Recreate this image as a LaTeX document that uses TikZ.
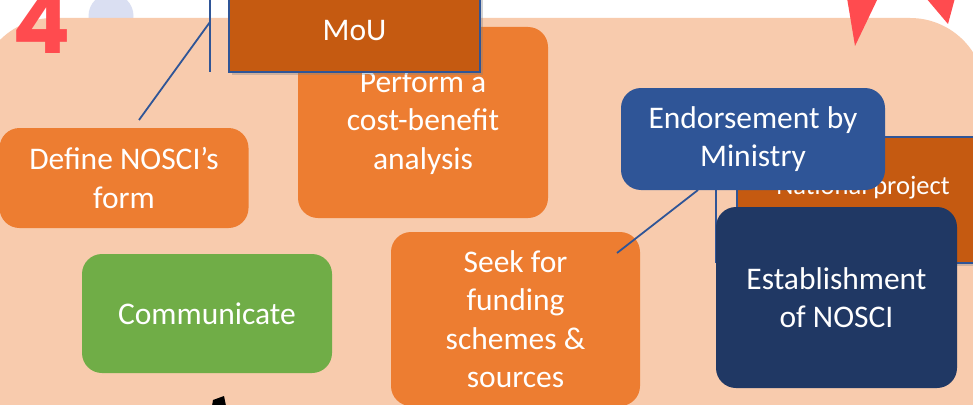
\documentclass[tikz,border=0pt]{standalone}
\usepackage{fontspec}
\setmainfont{Carlito}
\newfontfamily\poppins{Poppins}[BoldFont={Poppins Bold}]
\usetikzlibrary{shadows}
\definecolor{peach}{HTML}{F8CBAD}
\definecolor{orangebox}{HTML}{ED7D31}
\definecolor{darkorange}{HTML}{C55A11}
\definecolor{bluebox}{HTML}{2F5597}
\definecolor{navybox}{HTML}{203864}
\definecolor{greenbox}{HTML}{70AD47}
\definecolor{redmark}{HTML}{FF4B4F}
\definecolor{paleblue}{HTML}{DADFF2}
\tikzset{
  card/.style={rounded corners=20pt, inner sep=0pt, align=center, text=white,
    font=\fontsize{31.5}{38.5}\selectfont},
  plainrect/.style={draw=bluebox, line width=1.6pt, inner sep=0pt, align=center, text=white,
    font=\fontsize{31.5}{38.5}\selectfont,
    drop shadow={opacity=0.35, shadow xshift=3pt, shadow yshift=-3pt}},
  callout/.style={draw=bluebox, line width=1.8pt},
}
\begin{document}
\begin{tikzpicture}[x=1pt,y=-1pt]
\useasboundingbox (0,0) rectangle (973,404);
\clip (0,0) rectangle (973,404);
\fill[white] (0,0) rectangle (973,404);
% pale circle behind
\fill[paleblue] (111,16) circle (22.5);
% peach panel
\fill[peach, rounded corners=75pt] (-22,18) rectangle (985,480);
% red number and marks
\node[text=redmark, inner sep=0pt, anchor=base, font=\poppins\bfseries\fontsize{86}{86}\selectfont] (num) at (42,53) {4};
\fill[redmark] (847,-2) -- (878,-2) -- (855,46) -- cycle;
\fill[redmark] (926,-2) -- (955,-2) -- (948,24) -- cycle;
% callout of define box
\coordinate (cTop) at (210,0);
\coordinate (cBot) at (210,72);
\coordinate (cJoint) at (210,22);
\coordinate (defTip) at (139,120);
\draw[callout] (cTop) -- (cBot);
\draw[callout] (defTip) -- (cJoint);
% boxes
\node[card, fill=orangebox, minimum width=249pt, minimum height=100pt] (define) at (124,178) {Define NOSCI’s\\form};
\node[card, fill=greenbox, minimum width=250pt, minimum height=119pt] (comm) at (207,313.5) {Communicate};
\node[card, fill=orangebox, minimum width=250pt, minimum height=191pt] (perform) at (423,122.5) {Perform a\\cost-benefit\\analysis};
\node[plainrect, fill=darkorange, minimum width=251pt, minimum height=82pt] (mou) at (354.5,31) {MoU};
\node[card, fill=orangebox, minimum width=249pt, minimum height=174pt] (seek) at (515.5,319) {Seek for\\funding\\schemes \&\\sources};
% callout of endorsement
\coordinate (seekTip) at (617,253);
\coordinate (endJoint) at (698,190);
\coordinate (barTop) at (716,190);
\coordinate (barBot) at (716,263);
\draw[callout] (seekTip) -- (endJoint);
\draw[callout] (barTop) -- (barBot);
\node[plainrect, fill=darkorange, minimum width=253pt, minimum height=126pt] (national) at (863.5,200) {};
\node[text=white, inner sep=0pt, font=\fontsize{26.5}{32}\selectfont] (natlabel) at (863,188) {National project};
\node[card, fill=bluebox, minimum width=264pt, minimum height=102pt] (endorse) at (753,139) {Endorsement by\\Ministry};
\node[card, fill=navybox, minimum width=241pt, minimum height=181pt] (establish) at (836.5,297.5) {Establishment\\of NOSCI};
% black fragment at bottom
\fill[black] (212,406) -- (213,400) -- (224,396) -- (226,406) -- cycle;
\end{tikzpicture}
\end{document}
